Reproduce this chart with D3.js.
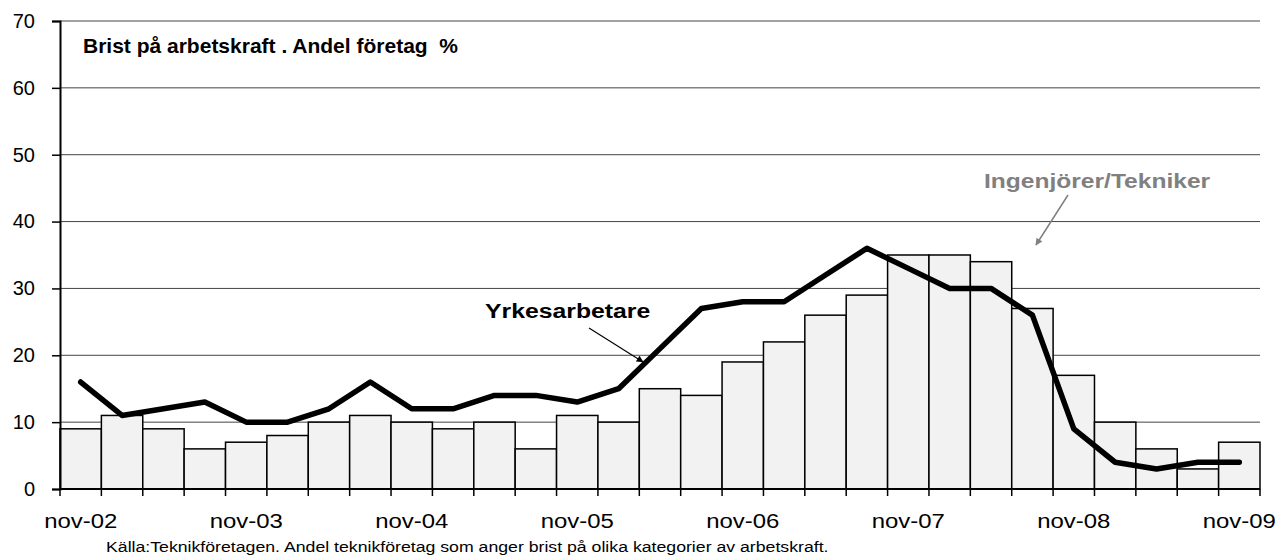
<!DOCTYPE html>
<html>
<head>
<meta charset="utf-8">
<script src="https://cdn.jsdelivr.net/npm/d3@7"></script>
<style>
  body { margin: 0; background: #fff; }
  text { font-family: "Liberation Sans", Arial, sans-serif; }
</style>
</head>
<body>
<script>
// quarterly survey rounds, nov-02 .. nov-09
var categories = ["nov-02","feb-03","maj-03","aug-03","nov-03","feb-04","maj-04","aug-04",
  "nov-04","feb-05","maj-05","aug-05","nov-05","feb-06","maj-06","aug-06",
  "nov-06","feb-07","maj-07","aug-07","nov-07","feb-08","maj-08","aug-08",
  "nov-08","feb-09","maj-09","aug-09","nov-09"];

// Ingenjörer/Tekniker (bars)
var ingenjorer = [9, 11, 9, 6, 7, 8, 10, 11, 10, 9, 10, 6, 11, 10, 15, 14,
  19, 22, 26, 29, 35, 35, 34, 27, 17, 10, 6, 3, 7];

// Yrkesarbetare (line)
var yrkesarbetare = [16, 11, 12, 13, 10, 10, 12, 16, 12, 12, 14, 14, 13, 15, 21, 27,
  28, 28, 32, 36, 33, 30, 30, 26, 9, 4, 3, 4, 4];

var xTickLabels = ["nov-02","nov-03","nov-04","nov-05","nov-06","nov-07","nov-08","nov-09"];
var yTicks = [0, 10, 20, 30, 40, 50, 60, 70];

var chartW = 1284, chartH = 560;
var plotLeft = 60, plotRight = 1260, plotTop = 21, plotBottom = 489;

var svg = d3.select("body").append("svg")
  .attr("width", chartW)
  .attr("height", chartH);

var x = d3.scaleBand()
  .domain(categories)
  .range([plotLeft, plotRight])
  .padding(0);

var y = d3.scaleLinear()
  .domain([0, 70])
  .range([plotBottom, plotTop]);

// gridlines
svg.append("g")
  .selectAll("line")
  .data(yTicks.filter(function(d) { return d > 0; }))
  .enter().append("line")
  .attr("x1", plotLeft)
  .attr("x2", plotRight)
  .attr("y1", function(d) { return y(d); })
  .attr("y2", function(d) { return y(d); })
  .attr("stroke", "#444")
  .attr("stroke-width", 1);

// bars
svg.append("g")
  .selectAll("rect")
  .data(ingenjorer)
  .enter().append("rect")
  .attr("x", function(d, i) { return x(categories[i]); })
  .attr("y", function(d) { return y(d); })
  .attr("width", x.bandwidth())
  .attr("height", function(d) { return y(0) - y(d); })
  .attr("fill", "#f2f2f2")
  .attr("stroke", "#000")
  .attr("stroke-width", 1.5);

// line
var line = d3.line()
  .x(function(d, i) { return x(categories[i]) + x.bandwidth() / 2; })
  .y(function(d) { return y(d); });

svg.append("path")
  .datum(yrkesarbetare)
  .attr("d", line)
  .attr("fill", "none")
  .attr("stroke", "#000")
  .attr("stroke-width", 5.5)
  .attr("stroke-linejoin", "round")
  .attr("stroke-linecap", "round");

// y axis
var yAxis = d3.axisLeft(y)
  .tickValues(yTicks)
  .tickSize(8)
  .tickPadding(17)
  .tickFormat(d3.format("d"));

var gy = svg.append("g")
  .attr("transform", "translate(" + plotLeft + ",0)")
  .call(yAxis);
gy.select(".domain").attr("stroke-width", 2);
gy.selectAll(".tick line").attr("stroke-width", 1.5);
gy.selectAll(".tick text")
  .attr("font-size", 20)
  .attr("fill", "#000")
  .style("font-family", "Liberation Sans, Arial, sans-serif");

// x axis: tick at every category boundary
var boundaries = categories.map(function(c) { return x(c); }).concat([plotRight]);
var gx = svg.append("g");
gx.append("line")
  .attr("x1", plotLeft).attr("x2", plotRight)
  .attr("y1", y(0)).attr("y2", y(0))
  .attr("stroke", "#000").attr("stroke-width", 2);
gx.selectAll(".tk")
  .data(boundaries)
  .enter().append("line")
  .attr("class", "tk")
  .attr("x1", function(d) { return d; })
  .attr("x2", function(d) { return d; })
  .attr("y1", y(0))
  .attr("y2", y(0) + 7)
  .attr("stroke", "#000")
  .attr("stroke-width", 1.5);
gx.selectAll(".lbl")
  .data(xTickLabels)
  .enter().append("text")
  .attr("class", "lbl")
  .attr("transform", function(d) {
    return "translate(" + (x(d) + x.bandwidth() / 2) + ",528) scale(1.14,1)";
  })
  .attr("text-anchor", "middle")
  .attr("font-size", 21)
  .text(function(d) { return d; });

// title
svg.append("text")
  .attr("x", 83)
  .attr("y", 53)
  .attr("font-size", 21)
  .attr("font-weight", "bold")
  .style("white-space", "pre")
  .text("Brist på arbetskraft . Andel företag  %");

// arrow markers
var defs = svg.append("defs");
function marker(id, color) {
  defs.append("marker")
    .attr("id", id)
    .attr("viewBox", "0 0 10 10")
    .attr("refX", 9).attr("refY", 5)
    .attr("markerWidth", 8).attr("markerHeight", 7)
    .attr("markerUnits", "userSpaceOnUse")
    .attr("orient", "auto")
    .append("path")
    .attr("d", "M0,0 L10,5 L0,10 z")
    .attr("fill", color);
}
marker("arrBlack", "#000");
marker("arrGrey", "#808080");

// Yrkesarbetare annotation
svg.append("text")
  .attr("transform", "translate(485,318) scale(1.18,1)")
  .attr("font-size", 21)
  .attr("font-weight", "bold")
  .text("Yrkesarbetare");
svg.append("line")
  .attr("x1", 589).attr("y1", 328)
  .attr("x2", 643).attr("y2", 362)
  .attr("stroke", "#000")
  .attr("stroke-width", 1.2)
  .attr("marker-end", "url(#arrBlack)");

// Ingenjörer/Tekniker annotation
svg.append("text")
  .attr("transform", "translate(984,188) scale(1.17,1)")
  .attr("font-size", 21)
  .attr("font-weight", "bold")
  .attr("fill", "#808080")
  .text("Ingenjörer/Tekniker");
svg.append("line")
  .attr("x1", 1068).attr("y1", 195)
  .attr("x2", 1036).attr("y2", 245)
  .attr("stroke", "#808080")
  .attr("stroke-width", 1.5)
  .attr("marker-end", "url(#arrGrey)");

// source note
svg.append("text")
  .attr("transform", "translate(106,552) scale(1.18,1)")
  .attr("font-size", 15)
  .text("Källa:Teknikföretagen. Andel teknikföretag som anger brist på olika kategorier av arbetskraft.");
</script>
</body>
</html>
